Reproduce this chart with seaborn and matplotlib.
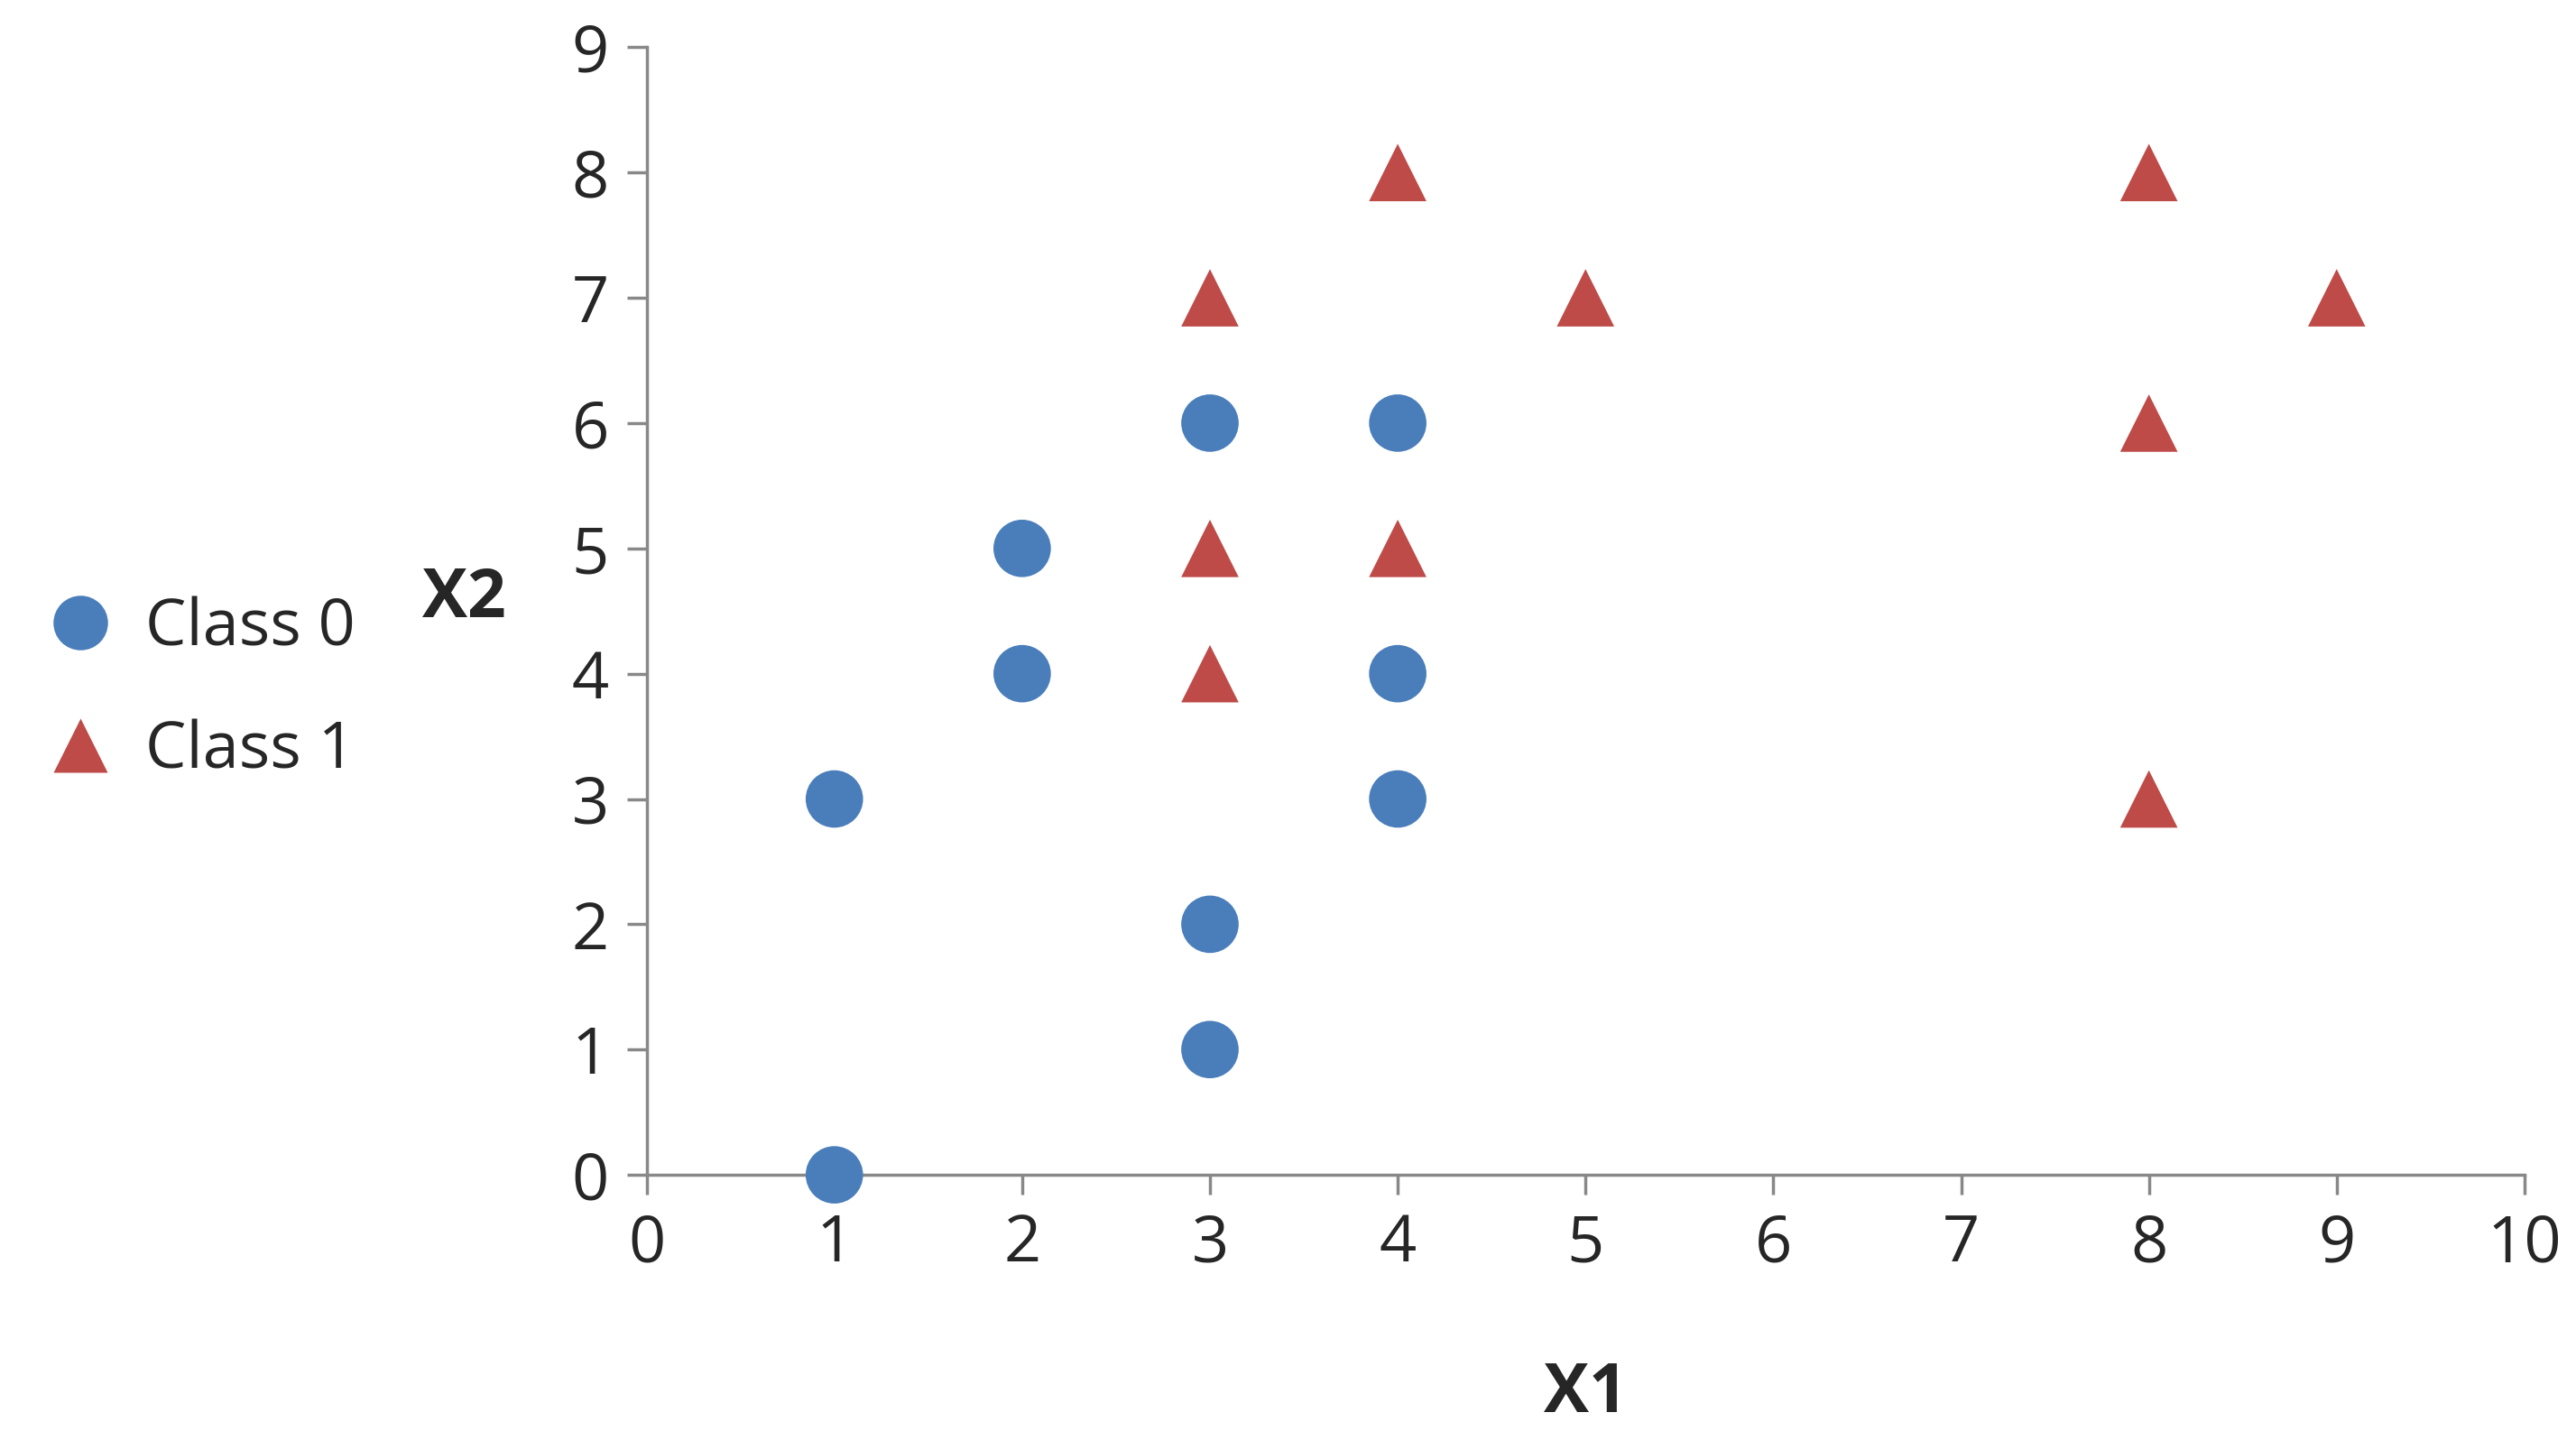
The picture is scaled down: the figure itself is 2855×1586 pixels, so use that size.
import matplotlib
matplotlib.use("Agg")
import matplotlib.pyplot as plt
import seaborn as sns
import pandas as pd

class0_x = [1, 1, 2, 2, 3, 3, 3, 4, 4, 4]
class0_y = [0, 3, 4, 5, 1, 2, 6, 3, 4, 6]
class1_x = [3, 3, 3, 4, 4, 5, 8, 8, 8, 9]
class1_y = [4, 5, 7, 5, 8, 7, 3, 6, 8, 7]
labels = ["Class 0", "Class 1"]

df = pd.DataFrame({
    "X1": class0_x + class1_x,
    "X2": class0_y + class1_y,
    "cls": [labels[0]] * len(class0_x) + [labels[1]] * len(class1_x),
})

sns.set_style("white", {"xtick.bottom": True, "ytick.left": True})
plt.rcParams['font.family'] = ['Open Sans', 'DejaVu Sans']

fig = plt.figure(figsize=(28.55, 15.86), dpi=100)
ax = fig.add_axes([0.251, 0.179, 0.729, 0.788])
sns.scatterplot(data=df, x="X1", y="X2", hue="cls", style="cls",
                markers={labels[0]: "o", labels[1]: "^"},
                palette={labels[0]: "#4A7EBB", labels[1]: "#BE4B48"},
                s=2100, edgecolor="none", ax=ax, clip_on=False, zorder=3)

ax.set_xlim(0, 10)
ax.set_ylim(0, 9)
ax.set_xticks(range(0, 11))
ax.set_yticks(range(0, 10))
for s in ["top", "right"]:
    ax.spines[s].set_visible(False)
for s in ["left", "bottom"]:
    ax.spines[s].set_color("#888888")
    ax.spines[s].set_linewidth(2.5)
ax.tick_params(axis="both", which="major", direction="out", length=16, width=2.5,
               color="#888888", labelsize=52, pad=14, bottom=True, left=True)
ax.set_xlabel("X1", fontsize=54, fontweight="bold")
ax.xaxis.set_label_coords(0.5, -0.165)
ax.set_ylabel("X2", fontsize=54, fontweight="bold", rotation=0)
ax.yaxis.set_label_coords(-0.097, 0.48)

ax.legend(loc="center left", bbox_to_anchor=(-0.35, 0.43), frameon=False,
          fontsize=52, markerscale=0.95, handletextpad=0.0, labelspacing=0.9,
          borderaxespad=0)
ax.grid(False)
fig.savefig("out.png", dpi=100)
